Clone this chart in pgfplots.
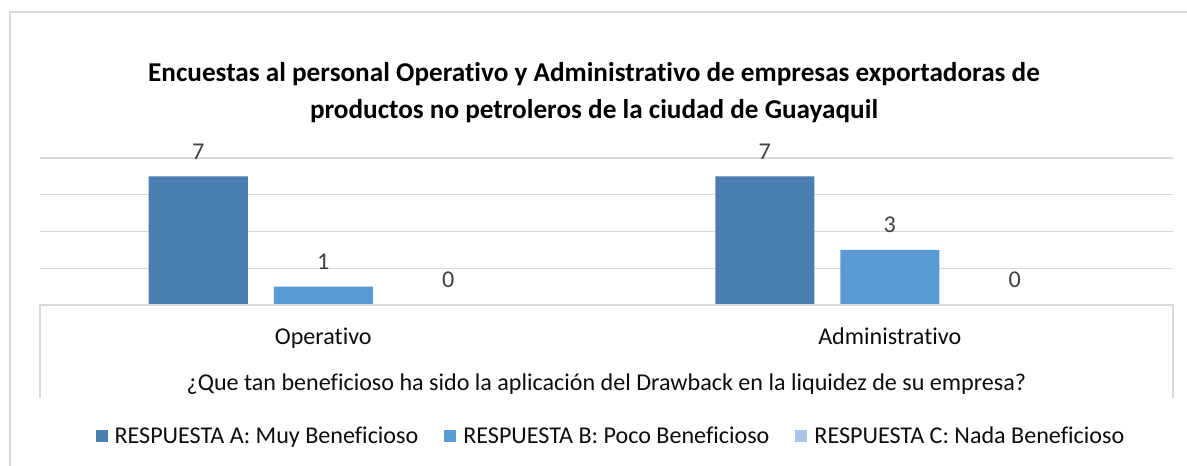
\documentclass[border=0pt]{standalone}
\usepackage{fontspec}
\setmainfont{Carlito}[Ligatures={NoCommon}]
\usepackage{pgfplots}
\pgfplotsset{compat=1.18}
\definecolor{cA}{RGB}{74,126,176}
\definecolor{cB}{RGB}{91,155,213}
\definecolor{cC}{RGB}{169,196,232}
\definecolor{gridc}{RGB}{217,217,217}
\definecolor{lab}{RGB}{64,64,64}
\definecolor{txt}{RGB}{13,13,13}
\newcommand{\bodyfont}{\fontsize{24.1bp}{28bp}\selectfont}
\begin{document}
\begin{tikzpicture}[x=1bp,y=1bp]
\path[use as bounding box] (-40,-161) rectangle (1147,305);
\draw[gridc, line width=1.2bp] (-30,-170) -- (-30,293) -- (1150,293);
\begin{axis}[
  at={(0,0)}, anchor=south west,
  scale only axis, width=1133bp, height=147bp,
  xmin=-0.5, xmax=1.5, ymin=0, ymax=8,
  ybar=26bp, bar width=99bp,
  /pgf/number format/assume math mode=true,
  xtick={0,1}, xticklabels={Operativo,Administrativo},
  ytick={0,2,4,6,8}, yticklabels={},
  major tick length=0,
  ymajorgrids, grid style={gridc, line width=1.2bp},
  axis line style={draw=none},
  xticklabel style={anchor=base, yshift=-40bp, font=\bodyfont, text=txt},
  xlabel={¿Que tan beneficioso ha sido la aplicación del Drawback en la liquidez de su empresa?},
  xlabel style={at={(axis description cs:0.5,0)}, anchor=base, yshift=-86bp, font=\bodyfont, text=txt},
  nodes near coords,
  every node near coord/.append style={anchor=south, inner sep=0pt, yshift=17bp, font=\bodyfont, text=lab},
  legend columns=-1,
  legend image code/.code={\fill[#1] (0bp,-6bp) rectangle (12bp,6bp);},
  legend style={at={(0.503,-0.891)}, anchor=center, draw=none, fill=none, font=\bodyfont, text=txt,
    nodes={inner sep=0pt},
    /tikz/every odd column/.append style={column sep=7bp},
    /tikz/every even column/.append style={column sep=26bp}},
]
\addplot[fill=cA, draw=none] coordinates {(0,7) (1,7)};
\addplot[fill=cB, draw=none] coordinates {(0,1) (1,3)};
\addplot[fill=cC, draw=none] coordinates {(0,0) (1,0)};
\legend{RESPUESTA A: Muy Beneficioso, RESPUESTA B: Poco Beneficioso, RESPUESTA C: Nada Beneficioso}
\end{axis}
\draw[gridc, line width=1.2bp] (0,-93) -- (0,0) -- (1133,0) -- (1133,-93);
\node[align=center, font=\bfseries\fontsize{27.2bp}{37bp}\selectfont, text=black] at (554,212.5) {Encuestas al personal Operativo y Administrativo de empresas exportadoras de\\productos no petroleros de la ciudad de Guayaquil};
\end{tikzpicture}
\end{document}
